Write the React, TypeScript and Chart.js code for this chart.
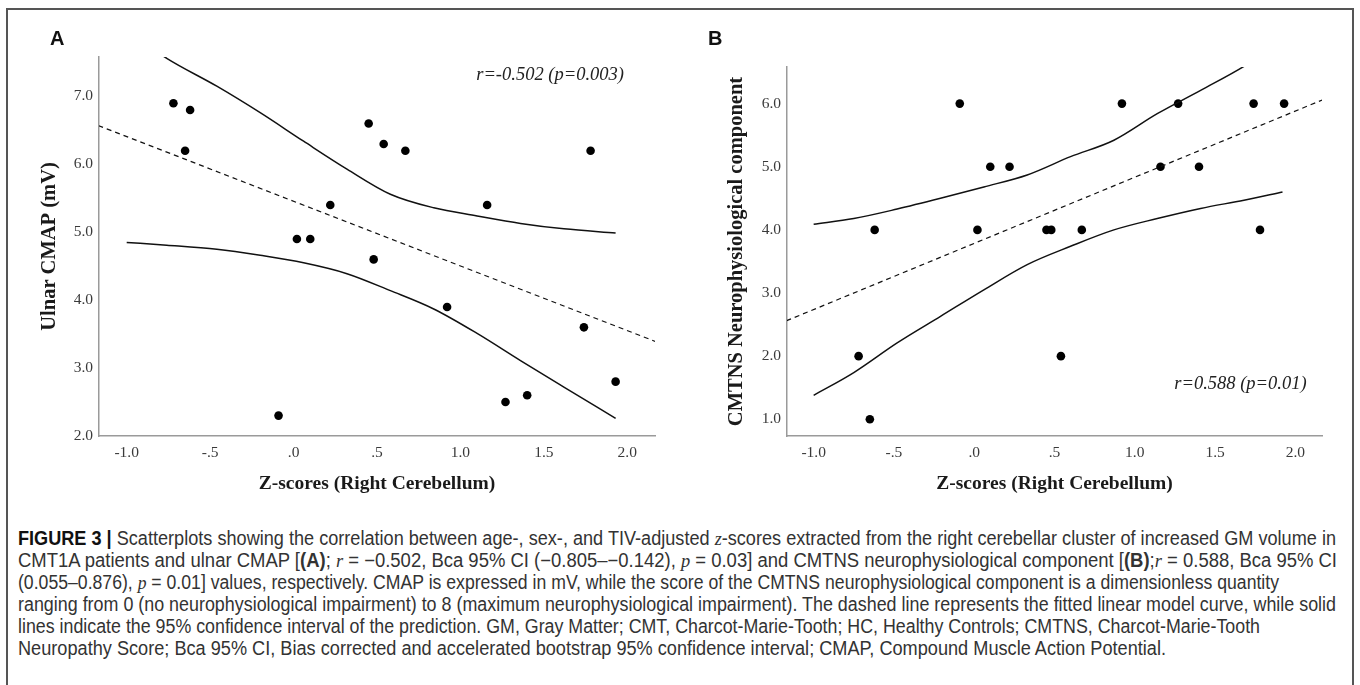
import React, { useEffect, useLayoutEffect, useRef } from "react";
import { Chart, registerables } from "chart.js";

Chart.register(...registerables);

// ---------- data ----------
const zScores = [-0.72, -0.65, -0.62, -0.09, 0.02, 0.1, 0.22, 0.45, 0.48, 0.54, 0.67, 0.92, 1.16, 1.27, 1.4, 1.74, 1.78, 1.93];
const ulnarCmap = [6.9, 6.2, 6.8, 2.3, 4.9, 4.9, 5.4, 6.6, 4.6, 6.3, 6.2, 3.9, 5.4, 2.5, 2.6, 3.6, 6.2, 2.8];
const cmtnsNeuro = [2, 1, 4, 6, 4, 5, 5, 4, 4, 2, 4, 6, 5, 6, 5, 6, 4, 6];

// fitted linear model (dashed) end points
const fitAX = [-1.17, 2.17];
const fitAY = [6.57, 3.39];
const fitBX = [-1.17, 2.17];
const fitBY = [2.56, 6.06];

// 95% CI curves
const ciAX = [-1.0, -0.76, -0.46, -0.2, 0.06, 0.32, 0.58, 0.84, 1.1, 1.36, 1.62, 1.93];
const ciAUpper = [7.97, 7.56, 7.15, 6.76, 6.34, 5.93, 5.56, 5.36, 5.24, 5.13, 5.05, 4.99];
const ciALower = [4.85, 4.81, 4.75, 4.66, 4.55, 4.39, 4.14, 3.87, 3.51, 3.11, 2.72, 2.26];

const ciBX = [-1.0, -0.75, -0.48, -0.21, 0.06, 0.33, 0.6, 0.87, 1.14, 1.41, 1.68, 1.92];
const ciBUpper = [4.09, 4.18, 4.33, 4.5, 4.68, 4.87, 5.16, 5.42, 5.84, 6.21, 6.59, 7.0];
const ciBLower = [1.38, 1.74, 2.21, 2.63, 3.05, 3.45, 3.74, 4.0, 4.18, 4.34, 4.47, 4.6];

// ticks
const xTickValues = [-1, -0.5, 0, 0.5, 1, 1.5, 2];
const xTickLabels = ["-1.0", "-.5", ".0", ".5", "1.0", "1.5", "2.0"];
const yTickValuesA = [2, 3, 4, 5, 6, 7];
const yTickLabelsA = ["2.0", "3.0", "4.0", "5.0", "6.0", "7.0"];
const yTickValuesB = [1, 2, 3, 4, 5, 6];
const yTickLabelsB = ["1.0", "2.0", "3.0", "4.0", "5.0", "6.0"];

const xRange = [-1.166, 2.166];
const yRangeA = [2.0, 7.58];
const yRangeB = [0.735, 6.58];

const SERIF = '"Liberation Serif", "Times New Roman", serif';

type PanelCfg = {
  width: number;
  height: number;
  xs: number[];
  ys: number[];
  fitX: number[];
  fitY: number[];
  ciX: number[];
  ciUp: number[];
  ciLo: number[];
  yTicks: number[];
  yLabels: string[];
  yRange: number[];
  yTitle: string;
  yAxisWidth: number;
  yTitlePad: number;
  padTop: number;
  padRight: number;
  annText: string;
  annX: number;
  annY: number;
};

const toPts = (xs: number[], ys: number[]) => xs.map((x, i) => ({ x, y: ys[i] }));

function Panel(props: PanelCfg) {
  const ref = useRef<HTMLCanvasElement | null>(null);
  useEffect(() => {
    if (!ref.current) return;
    const p = props;
    const annPlugin = {
      id: "ann",
      afterDatasetsDraw(chart: any) {
        const ctx = chart.ctx;
        const xs = chart.scales.x;
        const ys = chart.scales.y;
        ctx.save();
        ctx.font = `italic 18.5px ${SERIF}`;
        ctx.fillStyle = "#222";
        ctx.textAlign = "right";
        ctx.textBaseline = "middle";
        ctx.fillText(p.annText, xs.getPixelForValue(p.annX), ys.getPixelForValue(p.annY));
        ctx.restore();
      },
    };
    const curve = {
      showLine: true,
      borderColor: "#111",
      borderWidth: 1.5,
      cubicInterpolationMode: "monotone",
      pointRadius: 0,
    };
    const chart = new Chart(ref.current, {
      type: "scatter",
      data: {
        datasets: [
          {
            data: toPts(p.fitX, p.fitY),
            showLine: true,
            borderColor: "#111",
            borderWidth: 1.2,
            borderDash: [5, 4],
            pointRadius: 0,
          },
          { ...curve, data: toPts(p.ciX, p.ciUp) },
          { ...curve, data: toPts(p.ciX, p.ciLo) },
          {
            data: toPts(p.xs, p.ys),
            pointRadius: 4.3,
            backgroundColor: "#000",
            borderWidth: 0,
          },
        ],
      } as any,
      options: {
        responsive: false,
        animation: false,
        devicePixelRatio: 1,
        layout: { padding: { left: 0, top: p.padTop, right: p.padRight, bottom: 0 } },
        plugins: { legend: { display: false }, tooltip: { enabled: false } },
        scales: {
          x: {
            type: "linear",
            min: xRange[0],
            max: xRange[1],
            grid: { display: false, drawTicks: false },
            border: { display: true, color: "#9a9a9a", width: 1.5 },
            afterBuildTicks: (axis: any) => {
              axis.ticks = xTickValues.map((v) => ({ value: v }));
            },
            afterFit: (axis: any) => {
              axis.height = p.height - 436;
            },
            ticks: {
              padding: 8,
              color: "#3a3a3a",
              font: { family: SERIF, size: 15.5 },
              maxRotation: 0,
              autoSkip: false,
              callback: (v: any) => {
                const i = xTickValues.indexOf(Number(v));
                return i >= 0 ? xTickLabels[i] : "";
              },
            },
            title: {
              display: true,
              text: "Z-scores (Right Cerebellum)",
              color: "#1a1a1a",
              font: { family: SERIF, size: 19.5, weight: "bold" },
              padding: { top: 0, bottom: 4 },
            },
          },
          y: {
            type: "linear",
            min: p.yRange[0],
            max: p.yRange[1],
            grid: { display: false, drawTicks: false },
            border: { display: true, color: "#9a9a9a", width: 1.5 },
            afterBuildTicks: (axis: any) => {
              axis.ticks = p.yTicks.map((v) => ({ value: v }));
            },
            afterFit: (axis: any) => {
              axis.width = p.yAxisWidth;
            },
            ticks: {
              padding: 6,
              color: "#3a3a3a",
              font: { family: SERIF, size: 15.5 },
              autoSkip: false,
              callback: (v: any) => {
                const i = p.yTicks.indexOf(Number(v));
                return i >= 0 ? p.yLabels[i] : "";
              },
            },
            title: {
              display: true,
              text: p.yTitle,
              color: "#1a1a1a",
              font: { family: SERIF, size: 20.5, weight: "bold" },
              padding: { top: p.yTitlePad, bottom: 0 },
            },
          },
        },
      } as any,
      plugins: [annPlugin],
    });
    return () => chart.destroy();
  }, []);
  return <canvas ref={ref} width={props.width} height={props.height} style={{ display: "block" }} />;
}

const serifI: React.CSSProperties = { fontStyle: "italic", fontFamily: SERIF };

// target widths of the caption lines (as laid out in the figure)
const captionLineWidths = [1318, 1319, 1261, 1318, 1242, 1148];

function Caption() {
  const lineRefs = useRef<(HTMLSpanElement | null)[]>([]);
  useLayoutEffect(() => {
    lineRefs.current.forEach((el, i) => {
      if (!el) return;
      const w = el.getBoundingClientRect().width;
      if (w > 0) el.style.transform = `scaleX(${captionLineWidths[i] / w})`;
    });
  }, []);
  const lineStyle: React.CSSProperties = {
    whiteSpace: "nowrap",
    height: 22,
    lineHeight: "22px",
    display: "inline-block",
    transformOrigin: "0 0",
  };
  const lines: React.ReactNode[] = [
    <>
      <b style={{ color: "#111" }}>FIGURE 3 |</b> Scatterplots showing the correlation between age-, sex-, and TIV-adjusted{" "}
      <i style={serifI}>z</i>-scores extracted from the right cerebellar cluster of increased GM volume in
    </>,
    <>
      CMT1A patients and ulnar CMAP [<b>(A)</b>; <i style={serifI}>r</i> = −0.502, Bca 95% CI (−0.805–−0.142),{" "}
      <i style={serifI}>p</i> = 0.03] and CMTNS neurophysiological component [<b>(B)</b>;<i style={serifI}>r</i> = 0.588, Bca
      95% CI
    </>,
    <>
      (0.055–0.876), <i style={serifI}>p</i> = 0.01] values, respectively. CMAP is expressed in mV, while the score of the CMTNS
      neurophysiological component is a dimensionless quantity
    </>,
    <>
      ranging from 0 (no neurophysiological impairment) to 8 (maximum neurophysiological impairment). The dashed line represents
      the fitted linear model curve, while solid
    </>,
    <>
      lines indicate the 95% confidence interval of the prediction. GM, Gray Matter; CMT, Charcot-Marie-Tooth; HC, Healthy
      Controls; CMTNS, Charcot-Marie-Tooth
    </>,
    <>
      Neuropathy Score; Bca 95% CI, Bias corrected and accelerated bootstrap 95% confidence interval; CMAP, Compound Muscle Action
      Potential.
    </>,
  ];
  return (
    <div
      style={{
        position: "absolute",
        left: 18,
        top: 527,
        fontFamily: '"Liberation Sans Narrow", "Liberation Sans", Arial, sans-serif',
        fontSize: 19.5,
        color: "#333",
      }}
    >
      {lines.map((content, i) => (
        <div key={i} style={{ height: 22 }}>
          <span
            ref={(el) => {
              lineRefs.current[i] = el;
            }}
            style={lineStyle}
          >
            {content}
          </span>
        </div>
      ))}
    </div>
  );
}

const panelLabel: React.CSSProperties = {
  position: "absolute",
  top: 27,
  fontFamily: '"Liberation Sans", Arial, sans-serif',
  fontWeight: "bold",
  fontSize: 20,
  color: "#111",
};

export default function App() {
  return (
    <div
      style={{
        position: "fixed",
        left: 0,
        top: 0,
        width: 1360,
        height: 685,
        overflow: "hidden",
        background: "#fff",
      }}
    >
      <div
        style={{
          position: "absolute",
          left: 6,
          top: 8,
          width: 1348,
          height: 720,
          border: "2px solid #555",
          boxSizing: "border-box",
        }}
      />
      <div style={{ position: "absolute", left: 0, top: 0 }}>
        <Panel
          width={690}
          height={500}
          xs={zScores}
          ys={ulnarCmap}
          fitX={fitAX}
          fitY={fitAY}
          ciX={ciAX}
          ciUp={ciAUpper}
          ciLo={ciALower}
          yTicks={yTickValuesA}
          yLabels={yTickLabelsA}
          yRange={yRangeA}
          yTitle="Ulnar CMAP (mV)"
          yAxisWidth={99}
          yTitlePad={37}
          padTop={57}
          padRight={35}
          annText="r=-0.502 (p=0.003)"
          annX={1.98}
          annY={7.32}
        />
      </div>
      <div style={{ position: "absolute", left: 680, top: 0 }}>
        <Panel
          width={680}
          height={500}
          xs={zScores}
          ys={cmtnsNeuro}
          fitX={fitBX}
          fitY={fitBY}
          ciX={ciBX}
          ciUp={ciBUpper}
          ciLo={ciBLower}
          yTicks={yTickValuesB}
          yLabels={yTickLabelsB}
          yRange={yRangeB}
          yTitle="CMTNS Neurophysiological component"
          yAxisWidth={107}
          yTitlePad={44}
          padTop={67}
          padRight={38}
          annText="r=0.588 (p=0.01)"
          annX={2.07}
          annY={1.55}
        />
      </div>
      <div style={{ ...panelLabel, left: 50 }}>A</div>
      <div style={{ ...panelLabel, left: 708 }}>B</div>
      <Caption />
    </div>
  );
}
